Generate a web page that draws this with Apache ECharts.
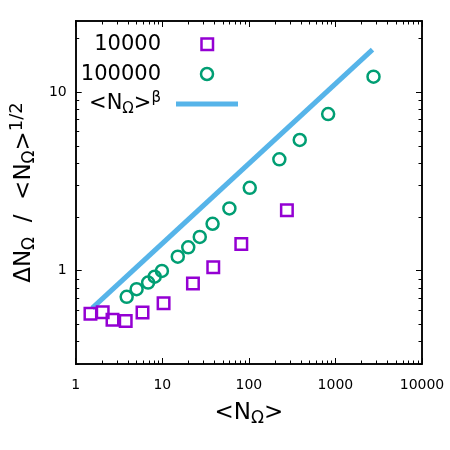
<!DOCTYPE html>
<html><head><meta charset="utf-8">
<script src="https://cdn.jsdelivr.net/npm/echarts@6/dist/echarts.min.js"></script>
<style>html,body{margin:0;padding:0;background:#fff}#c{width:450px;height:450px}</style>
</head><body><div id="c"></div>
<script>
// ---- data ----
const xTickLabels = [1, 10, 100, 1000, 10000];
const yTickLabels = [1, 10];
const xMinorTicks = [2,3,4,5,6,7,8,9,20,30,40,50,60,70,80,90,200,300,400,500,600,700,800,900,2000,3000,4000,5000,6000,7000,8000,9000];
const yMinorTicks = [0.3,0.4,0.5,0.6,0.7,0.8,0.9,2,3,4,5,6,7,8,9,20];

const n10000X = [1.48, 2.05, 2.66, 3.78, 5.91, 10.35, 22.6, 38.8, 81.8, 275];
const n10000Y = [0.573, 0.585, 0.530, 0.523, 0.582, 0.657, 0.846, 1.045, 1.41, 2.18];

const n100000X = [3.88, 5.05, 6.86, 8.17, 9.9, 15.1, 19.95, 27.1, 38.1, 59.6, 102.4, 225, 387, 824, 2754];
const n100000Y = [0.713, 0.787, 0.857, 0.925, 0.996, 1.197, 1.35, 1.545, 1.83, 2.23, 2.91, 4.2, 5.39, 7.53, 12.2];

const powerX = [1.55, 2680];
const powerY = [0.616, 17.3];

const seriesNames = ['10000', '100000'];

// ---- chart ----
const FONT = 'DejaVu Sans';
const zip = (a, b) => a.map((v, i) => [v, b[i]]);

function mkAxis(kind, pos, major, labels) {
  const isX = kind === 'x';
  return {
    type: 'log', logBase: 10,
    min: isX ? 1 : 0.3, max: isX ? 10000 : 25,
    position: pos, gridIndex: 0,
    axisLine: { show: true, onZero: false, lineStyle: { color: '#000', width: 1.5 } },
    axisTick: { show: true, inside: true, length: major ? 6 : 3.5,
      customValues: major ? (isX ? xTickLabels : yTickLabels) : (isX ? xMinorTicks : yMinorTicks),
      lineStyle: { color: '#000', width: 1 } },
    axisLabel: { show: !!labels, customValues: isX ? xTickLabels : yTickLabels,
      fontFamily: FONT, fontSize: 14, color: '#000', margin: isX ? 14 : 9,
      formatter: v => String(Math.round(v)) },
    splitLine: { show: false }, minorTick: { show: false }, minorSplitLine: { show: false }
  };
}

const xAxes = [mkAxis('x','bottom',true,true), mkAxis('x','bottom',false,false), mkAxis('x','top',true,false), mkAxis('x','top',false,false)];
const yAxes = [mkAxis('y','left',true,true), mkAxis('y','left',false,false), mkAxis('y','right',true,false), mkAxis('y','right',false,false)];

xAxes[0].name = '{n|<N}{s|Ω}{n|>}';
xAxes[0].nameLocation = 'middle';
xAxes[0].nameGap = 36;
xAxes[0].nameTextStyle = { fontFamily: FONT, color: '#000',
  rich: { n: { fontFamily: FONT, fontSize: 23, color: '#000' },
          s: { fontFamily: FONT, fontSize: 17, color: '#000', padding: [10, 0, 0, 0] } } };

yAxes[0].name = '{n|ΔN}{s|Ω}{n|  /  <N}{s|Ω}{n|>}{p|1/2}';
yAxes[0].nameLocation = 'middle';
yAxes[0].nameGap = 30;
yAxes[0].nameRotate = 90;
yAxes[0].nameTextStyle = { fontFamily: FONT, color: '#000',
  rich: { n: { fontFamily: FONT, fontSize: 23, color: '#000' },
          s: { fontFamily: FONT, fontSize: 17, color: '#000', padding: [11, 0, 0, 0] },
          p: { fontFamily: FONT, fontSize: 18, color: '#000', padding: [0, 0, 14, 0] } } };

const PURPLE = '#9400D3', GREEN = '#009E73', BLUE = '#56B4E9';

const option = {
  backgroundColor: '#fff',
  animation: false,
  grid: { left: 71, top: 21, right: 28, bottom: 86, containLabel: false },
  xAxis: xAxes,
  yAxis: yAxes,
  series: [
    { name: 'beta', type: 'line', data: zip(powerX, powerY), showSymbol: false, symbol: 'none',
      lineStyle: { color: BLUE, width: 5 }, z: 2 },
    { name: seriesNames[0], type: 'scatter', data: zip(n10000X, n10000Y), symbol: 'rect', symbolSize: 11.5,
      itemStyle: { color: 'rgba(0,0,0,0)', borderColor: PURPLE, borderWidth: 2.5, opacity: 1 }, z: 3 },
    { name: seriesNames[1], type: 'scatter', data: zip(n100000X, n100000Y), symbol: 'circle', symbolSize: 12,
      itemStyle: { color: 'rgba(0,0,0,0)', borderColor: GREEN, borderWidth: 2.5, opacity: 1 }, z: 3 }
  ],
  graphic: [
    { type: 'text', x: 161, y: 45, style: { text: seriesNames[0], font: '21px "DejaVu Sans"', fill: '#000', align: 'right', verticalAlign: 'middle' } },
    { type: 'text', x: 161, y: 75, style: { text: seriesNames[1], font: '21px "DejaVu Sans"', fill: '#000', align: 'right', verticalAlign: 'middle' } },
    { type: 'text', x: 161, y: 104, style: { text: '{n|<N}{s|Ω}{n|>}{p|β}', align: 'right', verticalAlign: 'middle',
        rich: { n: { fontFamily: FONT, fontSize: 21, fill: '#000' },
                s: { fontFamily: FONT, fontSize: 15, fill: '#000', padding: [10, 0, 0, 0] },
                p: { fontFamily: FONT, fontSize: 15, fill: '#000', padding: [0, 0, 12, 0] } } } },
    { type: 'rect', shape: { x: 201.5, y: 38.5, width: 11.5, height: 11.5 }, style: { fill: '#fff', stroke: PURPLE, lineWidth: 2.5 } },
    { type: 'circle', shape: { cx: 207, cy: 74, r: 6 }, style: { fill: '#fff', stroke: GREEN, lineWidth: 2.5 } },
    { type: 'line', shape: { x1: 176, y1: 104, x2: 238, y2: 104 }, style: { stroke: BLUE, lineWidth: 5 } }
  ]
};

const chart = echarts.init(document.getElementById('c'), null, { renderer: 'canvas' });
chart.setOption(option);
</script>
</body></html>
